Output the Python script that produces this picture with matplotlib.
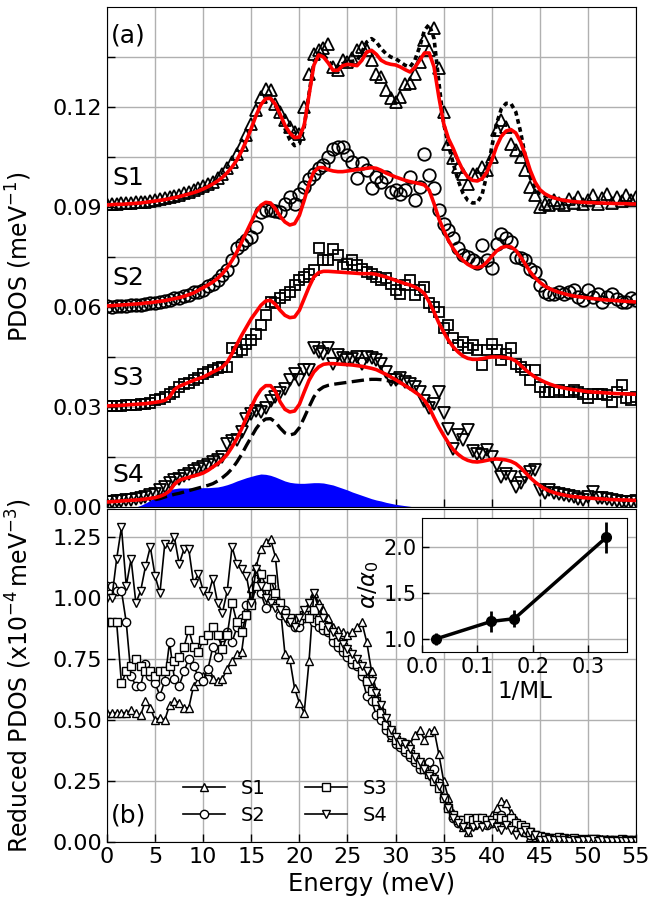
import numpy as np
import matplotlib.pyplot as plt
from matplotlib.ticker import MultipleLocator

# ---------------- data ----------------
energy = np.arange(0, 55.01, 0.5)          # meV, grid of all full-range series
offsets = [0.09, 0.06, 0.03, 0.0]           # vertical shifts S1..S4 in panel (a)

# panel (a): measured PDOS (before offset)
s1_pdos = [.0008, .0010, .0009, .0011, .0012, .0011, .0014, .0015, .0016, .0019,
           .0020, .0024, .0026, .0029, .0033, .0036, .0042, .0046, .0050, .0056,
           .0062, .0070, .0076, .0088, .0100, .0116, .0136, .0160, .0186, .0215,
           .0250, .0290, .0330, .0355, .0352, .0310, .0285, .0262, .0240, .0225,
           .0218, .0300, .0400, .0460, .0470, .0478, .0490, .0420, .0410, .0440,
           .0435, .0447, .0470, .0480, .0470, .0440, .0400, .0390, .0350, .0327,
           .0315, .0330, .0370, .0372, .0400, .0435, .0500, .0470, .0537, .0417,
           .0285, .0190, .0147, .0120, .0100, .0070, .0100, .0100, .0120, .0110,
           .0150, .0230, .0260, .0240, .0190, .0170, .0150, .0110, .0060, .0035,
           .0000, .0010, .0006, .0020, .0012, .0005, .0025, .0012, .0030, .0008,
           .0022, .0035, .0010, .0028, .0040, .0012, .0030, .0018, .0036, .0020,
           .0030]
s2_pdos = [.0002, .0001, .0003, .0004, .0003, .0006, .0007, .0006, .0010, .0011,
           .0013, .0016, .0018, .0022, .0026, .0027, .0034, .0036, .0044, .0046,
           .0052, .0062, .0070, .0082, .0096, .0112, .0140, .0176, .0190, .0200,
           .0210, .0240, .0285, .0290, .0290, .0288, .0285, .0310, .0330, .0310,
           .0340, .0360, .0385, .0400, .0417, .0426, .0450, .0475, .0480, .0480,
           .0455, .0435, .0387, .0432, .0410, .0357, .0390, .0375, .0390, .0345,
           .0350, .0340, .0350, .0390, .0320, .0360, .0460, .0396, .0357, .0290,
           .0250, .0230, .0207, .0177, .0156, .0150, .0140, .0132, .0186, .0140,
           .0117, .0190, .0220, .0207, .0196, .0150, .0147, .0140, .0115, .0105,
           .0066, .0045, .0040, .0040, .0045, .0040, .0045, .0050, .0030, .0020,
           .0050, .0030, .0038, .0015, .0030, .0040, .0025, .0015, .0015, .0027,
           .0020]
s3_pdos = [.0002, .0003, .0003, .0004, .0005, .0005, .0007, .0008, .0009, .0011,
           .0020, .0024, .0030, .0038, .0045, .0060, .0068, .0073, .0080, .0086,
           .0100, .0105, .0110, .0118, .0120, .0120, .0177, .0165, .0170, .0190,
           .0200, .0220, .0246, .0276, .0315, .0312, .0327, .0336, .0345, .0366,
           .0380, .0390, .0400, .0410, .0477, .0440, .0440, .0475, .0456, .0420,
           .0430, .0440, .0426, .0415, .0405, .0400, .0390, .0380, .0387, .0370,
           .0350, .0340, .0366, .0380, .0336, .0350, .0360, .0312, .0300, .0285,
           .0237, .0246, .0207, .0186, .0195, .0177, .0186, .0170, .0126, .0170,
           .0190, .0170, .0140, .0160, .0177, .0130, .0120, .0110, .0080, .0110,
           .0060, .0045, .0045, .0045, .0050, .0045, .0045, .0050, .0045, .0040,
           .0027, .0040, .0040, .0040, .0036, .0015, .0045, .0066, .0027, .0020,
           .0030]
s4_pdos = [.0015, .0016, .0018, .0017, .0020, .0022, .0024, .0027, .0030, .0035,
           .0040, .0050, .0060, .0072, .0080, .0085, .0092, .0098, .0108, .0115,
           .0120, .0126, .0135, .0142, .0150, .0190, .0198, .0202, .0225, .0265,
           .0278, .0288, .0285, .0298, .0318, .0330, .0342, .0355, .0380, .0398,
           .0380, .0410, .0412, .0477, .0466, .0460, .0477, .0430, .0455, .0448,
           .0442, .0445, .0450, .0430, .0450, .0447, .0440, .0430, .0405, .0382,
           .0380, .0386, .0375, .0368, .0360, .0345, .0318, .0297, .0310, .0345,
           .0282, .0235, .0175, .0215, .0200, .0230, .0168, .0160, .0157, .0170,
           .0150, .0125, .0090, .0100, .0090, .0060, .0072, .0090, .0105, .0110,
           .0050, .0043, .0050, .0042, .0040, .0036, .0033, .0030, .0025, .0020,
           .0030, .0045, .0027, .0027, .0025, .0020, .0018, .0016, .0015, .0015,
           .0018]

# panel (a): calculated PDOS (red curves)
s1_fit = [.0006, .0007, .0008, .0008, .0009, .0010, .0011, .0012, .0014, .0016,
          .0018, .0020, .0022, .0025, .0028, .0031, .0035, .0039, .0043, .0048,
          .0054, .0061, .0069, .0078, .0089, .0103, .0120, .0141, .0168, .0200,
          .0236, .0275, .0307, .0325, .0326, .0308, .0278, .0245, .0222, .0208,
          .0210, .0245, .0335, .0425, .0456, .0450, .0432, .0410, .0410, .0424,
          .0428, .0426, .0424, .0440, .0465, .0470, .0458, .0440, .0432, .0428,
          .0426, .0420, .0412, .0405, .0418, .0440, .0462, .0462, .0420, .0330,
          .0250, .0205, .0175, .0140, .0110, .0090, .0080, .0078, .0085, .0105,
          .0140, .0182, .0212, .0228, .0232, .0222, .0195, .0155, .0110, .0075,
          .0052, .0040, .0032, .0027, .0023, .0020, .0018, .0016, .0015, .0014,
          .0013, .0013, .0012, .0012, .0011, .0011, .0010, .0010, .0010, .0009,
          .0009]
s2_fit = [.0003, .0004, .0005, .0006, .0007, .0008, .0009, .0010, .0012, .0013,
          .0015, .0017, .0019, .0022, .0025, .0028, .0032, .0037, .0042, .0050,
          .0058, .0066, .0075, .0086, .0100, .0118, .0140, .0165, .0195, .0225,
          .0255, .0285, .0305, .0314, .0312, .0295, .0272, .0255, .0246, .0250,
          .0275, .0320, .0370, .0405, .0418, .0418, .0412, .0408, .0406, .0406,
          .0408, .0410, .0412, .0414, .0416, .0418, .0416, .0410, .0402, .0396,
          .0390, .0385, .0380, .0376, .0373, .0370, .0366, .0350, .0310, .0265,
          .0230, .0200, .0175, .0155, .0140, .0128, .0120, .0118, .0122, .0135,
          .0152, .0168, .0178, .0182, .0180, .0170, .0150, .0128, .0105, .0088,
          .0074, .0063, .0055, .0049, .0044, .0040, .0036, .0033, .0031, .0029,
          .0027, .0025, .0024, .0022, .0021, .0020, .0019, .0018, .0017, .0016,
          .0015]
s3_fit = [.0003, .0004, .0004, .0005, .0006, .0007, .0008, .0009, .0010, .0012,
          .0014, .0016, .0020, .0030, .0052, .0062, .0068, .0074, .0080, .0085,
          .0090, .0097, .0105, .0112, .0120, .0135, .0160, .0188, .0215, .0240,
          .0265, .0285, .0305, .0318, .0320, .0308, .0290, .0275, .0268, .0270,
          .0290, .0325, .0360, .0390, .0403, .0407, .0407, .0406, .0405, .0404,
          .0403, .0402, .0401, .0400, .0400, .0400, .0398, .0394, .0390, .0385,
          .0380, .0375, .0370, .0366, .0360, .0352, .0340, .0315, .0285, .0252,
          .0225, .0200, .0180, .0165, .0153, .0146, .0143, .0143, .0145, .0148,
          .0150, .0150, .0150, .0148, .0145, .0138, .0125, .0112, .0100, .0090,
          .0082, .0075, .0069, .0064, .0060, .0057, .0054, .0052, .0050, .0048,
          .0046, .0045, .0044, .0043, .0042, .0041, .0040, .0040, .0039, .0039,
          .0038]
s4_fit = [.0015, .0016, .0017, .0018, .0019, .0020, .0021, .0022, .0024, .0026,
          .0028, .0032, .0038, .0048, .0068, .0080, .0085, .0089, .0093, .0097,
          .0102, .0110, .0120, .0130, .0142, .0158, .0180, .0205, .0235, .0268,
          .0300, .0330, .0352, .0364, .0364, .0347, .0315, .0293, .0285, .0288,
          .0308, .0345, .0380, .0405, .0420, .0428, .0430, .0430, .0429, .0428,
          .0427, .0426, .0424, .0422, .0419, .0416, .0412, .0405, .0398, .0390,
          .0382, .0373, .0364, .0355, .0345, .0335, .0320, .0298, .0268, .0240,
          .0215, .0192, .0172, .0158, .0147, .0140, .0136, .0135, .0137, .0140,
          .0143, .0144, .0143, .0141, .0137, .0130, .0118, .0103, .0088, .0075,
          .0064, .0055, .0048, .0043, .0039, .0036, .0033, .0031, .0030, .0028,
          .0027, .0026, .0025, .0024, .0023, .0022, .0022, .0021, .0021, .0020,
          .0020]

# black dashed curves (alternative calculation) for S1 and S4
e_dash1 = np.arange(17, 46.01, 0.5)
s1_dash = [.0326, .0305, .0272, .0235, .0202, .0184, .0190,
           .0240, .0340, .0432, .0462, .0456, .0440, .0420, .0418, .0430,
           .0436, .0437, .0440, .0465, .0495, .0505, .0495, .0475, .0460, .0450,
           .0445, .0435, .0425, .0420, .0440, .0480, .0530, .0548, .0505, .0375,
           .0250, .0185, .0130, .0080, .0042, .0020, .0012, .0013, .0038, .0098,
           .0180, .0250, .0295, .0311, .0310, .0285, .0225, .0150, .0088, .0055,
           .0040, .0033, .0030]
e_dash4 = np.arange(5, 31.01, 0.5)
s4_dash = [.0022, .0025, .0030, .0034, .0038, .0041, .0045, .0049, .0053, .0057,
           .0061, .0065, .0070, .0078, .0088, .0100, .0115, .0135, .0158, .0185,
           .0210, .0235, .0254, .0264, .0265, .0255, .0237, .0222, .0216, .0220,
           .0238, .0268, .0300, .0330, .0350, .0360, .0365, .0368, .0370, .0372,
           .0374, .0376, .0378, .0380, .0382, .0383, .0383, .0382, .0380, .0377,
           .0374, .0370, .0364]

# blue filled partial PDOS under S4
e_blue = np.arange(3, 32.01, 0.5)
blue_pdos = [.0000, .0005, .0012, .0020,
             .0030, .0040, .0047, .0052, .0055, .0057, .0057, .0057, .0057, .0057,
             .0058, .0058, .0059, .0060, .0063, .0067, .0072, .0078, .0083, .0088,
             .0092, .0096, .0099, .0098, .0095, .0090, .0084, .0078, .0074, .0072,
             .0071, .0071, .0072, .0073, .0073, .0072, .0069, .0066, .0061, .0056,
             .0051, .0045, .0040, .0035, .0030, .0025, .0021, .0018, .0014, .0011,
             .0008, .0006, .0004, .0002, .0000]

# panel (b): reduced PDOS (x1e-4 meV^-3)
s1_red = [.53, .53, .53, .53, .53, .54, .53, .52, .58, .55,
          .50, .51, .50, .56, .58, .57, .55, .55, .64, .66,
          .68, .70, .67, .66, .67, .71, .74, .77, .78, .93,
          1.04, 1.13, 1.20, 1.23, 1.24, 1.17, .97, .77, .75, .63,
          .57, .53, .74, 1.02, .98, .95, .92, .88, .87, .86,
          .85, .86, .88, .90, .82, .70, .62, .55, .48, .43,
          .42, .40, .41, .40, .44, .46, .42, .45, .46, .36,
          .25, .18, .12, .09, .06, .04, .07, .08, .09, .09,
          .11, .14, .17, .16, .12, .09, .06, .04, .02, .01,
          .00, .01, .005, .012, .008, .004, .012, .007, .014, .005,
          .01, .014, .005, .011, .014, .005, .01, .006, .012, .007,
          .01]
s2_red = [1.05, 1.05, 1.03, 1.03, .90, .68, .64, .64, .73, .68,
          .65, .60, .66, .82, .67, .64, .70, .75, .72, .68,
          .66, .71, .80, .76, .84, .86, .82, .88, .92, .97,
          .98, 1.08, 1.02, .96, 1.05, 1.00, .93, .95, .90, .88,
          .88, .92, .93, .90, .88, .87, .86, .82, .80, .78,
          .76, .73, .72, .68, .60, .58, .52, .50, .46, .44,
          .40, .39, .37, .35, .33, .30, .30, .33, .30, .24,
          .18, .14, .10, .08, .07, .08, .07, .08, .09, .07,
          .08, .10, .11, .09, .08, .06, .05, .04, .03, .02,
          .015, .01, .012, .01, .008, .01, .012, .008, .01, .006,
          .01, .008, .012, .005, .01, .008, .006, .01, .008, .01,
          .008]
s3_red = [.90, .90, .90, .65, .70, .72, .75, .72, .70, .70,
          .68, .70, .70, .72, .74, .76, .80, .87, .80, .78,
          .83, .85, .88, .85, .79, .85, .98, .90, .86, .93,
          .97, 1.05, 1.10, 1.05, 1.08, 1.02, .98, .94, .92, .90,
          .91, .93, .92, .95, .91, .89, .87, .85, .82, .80,
          .78, .75, .73, .70, .66, .62, .58, .53, .48, .45,
          .42, .40, .38, .36, .34, .32, .30, .28, .25, .22,
          .18, .14, .11, .09, .09, .10, .09, .10, .10, .09,
          .09, .10, .10, .09, .10, .08, .07, .06, .04, .03,
          .025, .02, .015, .015, .02, .015, .012, .015, .01, .012,
          .01, .012, .01, .008, .01, .008, .01, .012, .008, .01,
          .01]
s4_red = [1.00, 1.00, 1.16, 1.29, 1.05, 1.16, .98, 1.03, 1.13, 1.21,
          1.09, 1.02, 1.22, 1.21, 1.25, 1.14, 1.20, 1.20, 1.06, 1.10,
          1.03, 1.01, 1.08, .98, .94, 1.03, 1.21, 1.14, 1.12, 1.09,
          .98, 1.12, 1.05, 1.00, .98, .96, .95, .92, .90, .88,
          .92, .95, .98, 1.02, .96, .92, .88, .86, .84, .81,
          .79, .77, .75, .72, .70, .66, .61, .56, .51, .46,
          .43, .41, .40, .38, .35, .33, .30, .27, .26, .23,
          .18, .14, .10, .08, .06, .04, .06, .07, .06, .07,
          .08, .06, .05, .07, .05, .03, .04, .05, .04, .03,
          .01, .01, .012, .01, .008, .01, .006, .008, .005, .008,
          .01, .012, .006, .008, .006, .005, .006, .005, .004, .006,
          .005]

# inset: anharmonicity vs inverse thickness
inv_ml = [0.025, 0.125, 0.167, 0.333]
alpha_ratio = [1.00, 1.19, 1.22, 2.10]
alpha_err = [0.06, 0.11, 0.09, 0.17]

names = ['S1', 'S2', 'S3', 'S4']
markers = ['^', 'o', 's', 'v']
msizes_a = [9, 9, 7.5, 9]
pdos = [s1_pdos, s2_pdos, s3_pdos, s4_pdos]
fits = [s1_fit, s2_fit, s3_fit, s4_fit]
reduced = [s1_red, s2_red, s3_red, s4_red]
label_y = [0.0987, 0.0687, 0.0387, 0.0096]

plt.rcParams['font.family'] = 'DejaVu Sans'
plt.rcParams['font.size'] = 16
grid_kw = dict(color='#b0b0b0', lw=1.0)

fig = plt.figure(figsize=(6.51, 9.06), dpi=100)
ax_a = fig.add_axes([0.1644, 0.4404, 0.8126, 0.5519])
ax_b = fig.add_axes([0.1644, 0.0706, 0.8126, 0.3676])
ax_in = fig.add_axes([0.648, 0.2804, 0.315, 0.148])

# ---------- panel (a) ----------
ax_a.fill_between(e_blue, 0, blue_pdos, color='blue', lw=0, zorder=2)
for i in range(4):
    y = np.array(pdos[i]) + offsets[i]
    ax_a.plot(energy, y, ls='none', marker=markers[i], ms=msizes_a[i],
              mfc='none', mec='k', mew=1.3, zorder=3)
ax_a.plot(e_dash1, np.array(s1_dash) + offsets[0], color='k', lw=2.6,
          ls=(0, (1.3, 1.0)), zorder=4)
ax_a.plot(e_dash4, s4_dash, color='k', lw=2.4, ls='--', zorder=4)
for i in range(4):
    ax_a.plot(energy, np.array(fits[i]) + offsets[i], color='red', lw=2.6, zorder=5)
    ax_a.text(0.55, label_y[i], names[i], fontsize=18, va='center', zorder=6)
ax_a.text(0.45, 0.1415, '(a)', fontsize=18, va='center', zorder=6)

ax_a.set_xlim(0, 55)
ax_a.set_ylim(0, 0.15)
ax_a.xaxis.set_major_locator(MultipleLocator(5))
ax_a.set_yticks([0, 0.03, 0.06, 0.09, 0.12])
ax_a.set_yticks(np.arange(0.015, 0.15, 0.03), minor=True)
ax_a.tick_params(which='both', direction='in', length=6, width=1, labelbottom=False)
ax_a.set_axisbelow(True)
ax_a.grid(True, which='both', **grid_kw)
ax_a.set_ylabel('PDOS (meV$^{-1}$)', fontsize=17)
ax_a.yaxis.set_label_coords(-0.138, 0.5)

# ---------- panel (b) ----------
for i in range(4):
    ax_b.plot(energy, reduced[i], color='k', lw=1.2, marker=markers[i], ms=6,
              mfc='white', mec='k', mew=1.0, label=names[i])
ax_b.text(0.45, 0.11, '(b)', fontsize=18, va='center')
ax_b.set_xlim(0, 55)
ax_b.set_ylim(0, 1.365)
ax_b.xaxis.set_major_locator(MultipleLocator(5))
ax_b.yaxis.set_major_locator(MultipleLocator(0.25))
ax_b.tick_params(direction='in', length=6, width=1)
ax_b.set_axisbelow(True)
ax_b.grid(True, **grid_kw)
ax_b.set_xlabel('Energy (meV)', fontsize=17.5)
ax_b.set_ylabel('Reduced PDOS (x10$^{-4}\\,$meV$^{-3}$)', fontsize=17)
ax_b.yaxis.set_label_coords(-0.138, 0.5)
ax_b.legend(ncol=2, frameon=False, loc='lower left', bbox_to_anchor=(0.11, 0.0),
            fontsize=14, handlelength=2.2, columnspacing=2.0, labelspacing=0.4)

# ---------- inset ----------
ax_in.errorbar(inv_ml, alpha_ratio, yerr=alpha_err, fmt='-o', color='k', lw=2.5,
               ms=7, elinewidth=2, capsize=0)
ax_in.set_xlim(0, 0.37)
ax_in.set_ylim(0.86, 2.31)
ax_in.xaxis.set_major_locator(MultipleLocator(0.1))
ax_in.yaxis.set_major_locator(MultipleLocator(0.5))
ax_in.tick_params(direction='in', length=5, width=1, labelsize=15)
ax_in.set_axisbelow(True)
ax_in.grid(True, **grid_kw)
ax_in.set_xlabel('1/ML', fontsize=16.5, labelpad=2)
ax_in.set_ylabel(r'$\alpha/\alpha_0$', fontsize=16.5, labelpad=2)

fig.savefig('out.png', dpi=100)
